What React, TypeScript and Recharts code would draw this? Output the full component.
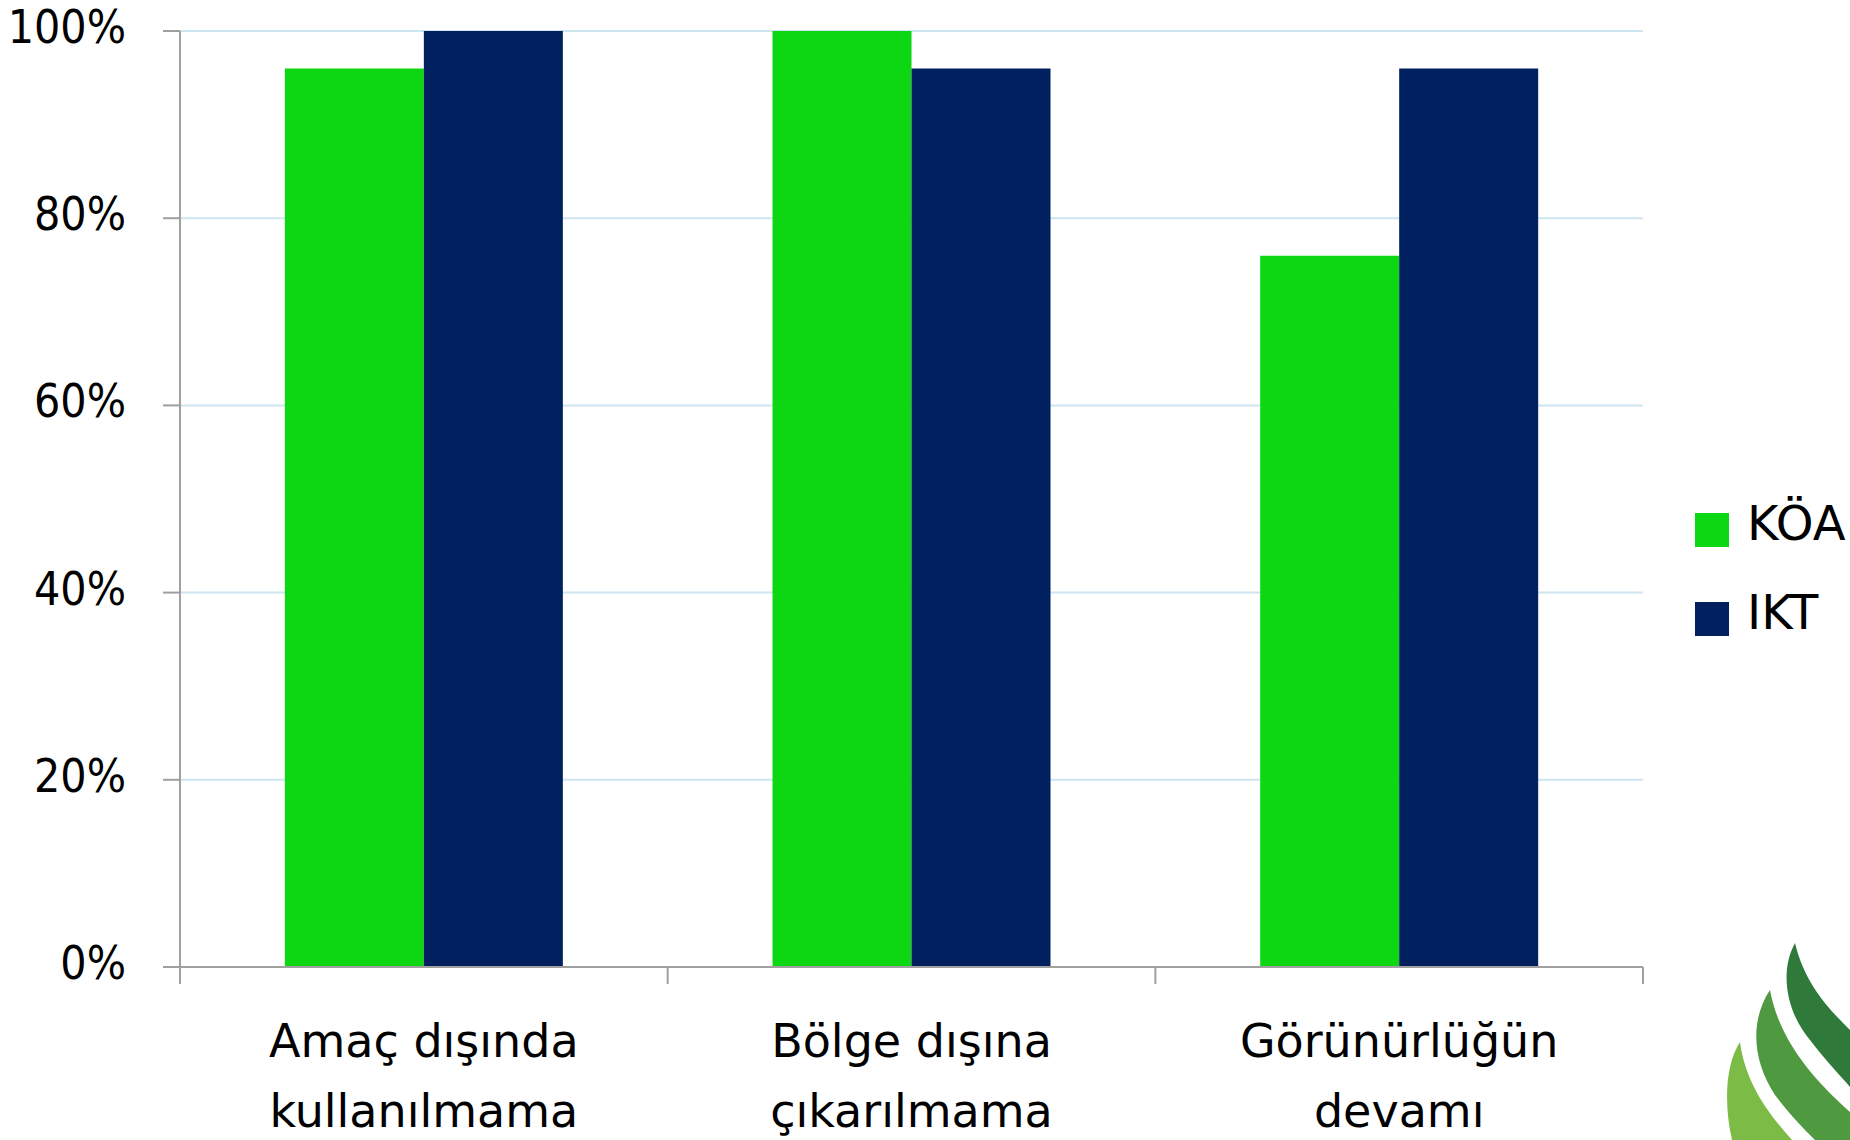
import React from "react";
import { BarChart, Bar, XAxis, YAxis, CartesianGrid } from "recharts";

const categories = ["Amaç dışında\nkullanılmama", "Bölge dışına\nçıkarılmama", "Görünürlüğün\ndevamı"];
const koaValues = [96, 100, 76];
const iktValues = [100, 96, 96];
const yTicks = [0, 20, 40, 60, 80, 100];

const series = [
    { key: "koa", name: "KÖA", color: "#0cd712" },
    { key: "ikt", name: "IKT", color: "#00205f" },
];

const data = categories.map((c, i) => ({ cat: c, koa: koaValues[i], ikt: iktValues[i] }));

const W = 1850;
const H = 1140;
const M = { top: 31, right: 207, left: 0, bottom: 0 };
const Y_W = 180;
const BAND = (W - M.right - M.left - Y_W) / categories.length;
const FONT = "'DejaVu Sans', sans-serif";
const AXIS = "#a0a0a0";

const YTick = ({ x, y, payload }: any) => (
    <text x={x} y={y + 12} textAnchor="end" fontSize={46} fontFamily="'DejaVu Sans Condensed', 'DejaVu Sans', sans-serif" fill="#000">
        {payload.value}%
    </text>
);

const XTick = ({ x, y, payload, index }: any) => {
    const half = payload && payload.offset ? payload.offset : BAND / 2;
    const lines = String(payload.value).split("\n");
    return (
        <g>
            <line x1={x - half} y1={y} x2={x - half} y2={y + 17} stroke={AXIS} strokeWidth={2} />
            {index === categories.length - 1 && (
                <line x1={x + half} y1={y} x2={x + half} y2={y + 17} stroke={AXIS} strokeWidth={2} />
            )}
            {lines.map((l, i) => (
                <text key={i} x={x} y={y + 90 + i * 70} textAnchor="middle" fontSize={46} fontFamily={FONT} fill="#000">
                    {l}
                </text>
            ))}
        </g>
    );
};

// leaf logo in the corner
const Logo = () => (
    <svg width={W} height={H} style={{ position: "absolute", left: 0, top: 0, pointerEvents: "none" }}>
        <path d="M1795,943 C1780,970 1785,1010 1810,1040 C1825,1060 1840,1075 1850,1087 L1850,1030 C1830,1010 1805,985 1795,943 Z" fill="#2f7a3b" />
        <path d="M1770,990 C1750,1020 1752,1060 1775,1095 C1790,1115 1805,1130 1815,1140 L1850,1140 L1850,1112 C1820,1085 1780,1045 1770,990 Z" fill="#4f9a40" />
        <path d="M1740,1042 C1725,1065 1724,1105 1732,1140 L1792,1140 C1765,1110 1745,1080 1740,1042 Z" fill="#7cbb45" />
    </svg>
);

const LegendBox = () => (
    <svg width={W} height={H} style={{ position: "absolute", left: 0, top: 0, pointerEvents: "none" }}>
        {series.map((s, i) => (
            <g key={s.key}>
                <rect x={1695} y={513 + i * 89} width={34} height={34} fill={s.color} />
                <text x={1747} y={540 + i * 89} fontSize={48} fontFamily={FONT} fill="#000">
                    {s.name}
                </text>
            </g>
        ))}
    </svg>
);

export default function App() {
    return (
        <div style={{ position: "absolute", left: 0, top: 0, width: W, height: H, background: "#fff" }}>
            <BarChart width={W} height={H} data={data} margin={M} barCategoryGap="21.5%" barGap={0}>
                <CartesianGrid vertical={false} stroke="#cde5f1" strokeWidth={2} />
                <XAxis
                    dataKey="cat"
                    height={H - 967}
                    tick={<XTick />}
                    tickLine={false}
                    tickSize={0}
                    tickMargin={0}
                    interval={0}
                    axisLine={{ stroke: AXIS, strokeWidth: 2 }}
                />
                <YAxis
                    width={Y_W}
                    domain={[0, 100]}
                    ticks={yTicks}
                    tick={<YTick />}
                    tickSize={17}
                    tickMargin={37}
                    tickLine={{ stroke: AXIS, strokeWidth: 2 }}
                    axisLine={{ stroke: AXIS, strokeWidth: 2 }}
                />
                {series.map((s) => (
                    <Bar key={s.key} dataKey={s.key} name={s.name} fill={s.color} isAnimationActive={false} />
                ))}
            </BarChart>
            <LegendBox />
            <Logo />
        </div>
    );
}
